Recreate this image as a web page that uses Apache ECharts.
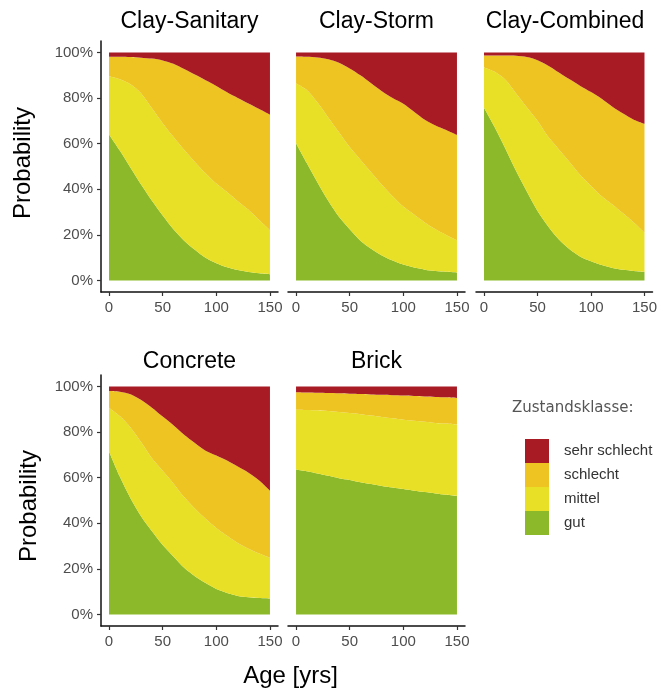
<!DOCTYPE html>
<html>
<head>
<meta charset="utf-8">
<script src="https://cdn.jsdelivr.net/npm/echarts@6/dist/echarts.min.js"></script>
<style>
  html, body { margin: 0; padding: 0; background: #ffffff; }
  #chart { width: 660px; height: 691px; }
</style>
</head>
<body>
<div id="chart"></div>
<script>
// ---- Data ----
const ages = [0, 10, 20, 30, 40, 50, 60, 70, 80, 90, 100, 110, 120, 130, 140, 150];
const panelTitles = ['Clay-Sanitary', 'Clay-Storm', 'Clay-Combined', 'Concrete', 'Brick'];
const classNames = ['gut', 'mittel', 'schlecht', 'sehr schlecht'];
const legendOrder = ['sehr schlecht', 'schlecht', 'mittel', 'gut'];
const xTicks = [0, 50, 100, 150];
const yTicks = [0, 0.2, 0.4, 0.6, 0.8, 1];

const claySanitaryGut      = [.640,.570,.495,.420,.350,.285,.225,.175,.135,.100,.076,.058,.046,.038,.032,.028];
const claySanitaryMittel   = [.255,.312,.365,.400,.405,.405,.405,.398,.385,.370,.349,.330,.302,.272,.233,.192];
const claySanitarySchlecht = [.086,.099,.120,.157,.218,.275,.320,.354,.383,.408,.428,.437,.452,.466,.487,.507];
const claySanitarySehr     = [.019,.019,.020,.023,.027,.035,.050,.073,.097,.122,.147,.175,.200,.224,.248,.273];

const clayStormGut      = [.602,.515,.430,.350,.280,.225,.175,.140,.110,.088,.070,.057,.048,.042,.039,.036];
const clayStormMittel   = [.262,.320,.350,.365,.370,.360,.355,.335,.310,.282,.255,.233,.207,.183,.161,.141];
const clayStormSchlecht = [.118,.146,.198,.255,.305,.345,.370,.390,.410,.430,.450,.450,.450,.455,.460,.461];
const clayStormSehr     = [.018,.019,.022,.030,.045,.070,.100,.135,.170,.200,.225,.260,.295,.320,.340,.362];

const clayCombinedGut      = [.757,.672,.578,.480,.390,.305,.237,.180,.137,.105,.085,.068,.055,.047,.042,.038];
const clayCombinedMittel   = [.177,.243,.302,.340,.370,.395,.393,.395,.383,.358,.330,.302,.279,.248,.213,.172];
const clayCombinedSchlecht = [.053,.072,.106,.165,.220,.266,.312,.337,.362,.390,.411,.427,.428,.437,.450,.477];
const clayCombinedSehr     = [.013,.013,.014,.015,.020,.034,.058,.088,.118,.147,.174,.203,.238,.268,.295,.313];

const concreteGut      = [.715,.605,.510,.430,.365,.305,.255,.205,.168,.138,.112,.095,.082,.076,.073,.071];
const concreteMittel   = [.192,.265,.310,.325,.320,.325,.320,.310,.297,.282,.268,.250,.232,.213,.195,.178];
const concreteSchlecht = [.073,.107,.146,.185,.222,.238,.255,.273,.287,.298,.317,.330,.335,.333,.320,.294];
const concreteSehr     = [.020,.023,.034,.060,.093,.132,.170,.212,.248,.282,.303,.325,.351,.378,.412,.457];

const brickGut      = [.636,.628,.618,.608,.598,.590,.580,.572,.564,.557,.550,.543,.537,.531,.525,.520];
const brickMittel   = [.262,.269,.277,.284,.290,.293,.298,.300,.302,.303,.304,.307,.308,.309,.312,.313];
const brickSchlecht = [.076,.076,.077,.079,.082,.085,.089,.093,.097,.101,.106,.108,.111,.114,.115,.116];
const brickSehr     = [.026,.027,.028,.029,.030,.032,.033,.035,.037,.039,.040,.042,.044,.046,.048,.051];

const panelData = [
  [claySanitaryGut, claySanitaryMittel, claySanitarySchlecht, claySanitarySehr],
  [clayStormGut, clayStormMittel, clayStormSchlecht, clayStormSehr],
  [clayCombinedGut, clayCombinedMittel, clayCombinedSchlecht, clayCombinedSehr],
  [concreteGut, concreteMittel, concreteSchlecht, concreteSehr],
  [brickGut, brickMittel, brickSchlecht, brickSehr]
];

// ---- Styling / layout ----
const classColors = {
  'gut': '#8BB929',
  'mittel': '#E8DF27',
  'schlecht': '#EDC422',
  'sehr schlecht': '#A81A24'
};
const FONT = '"Liberation Sans", Arial, sans-serif';
const gridLefts = [101, 288, 476, 101, 288];
const gridTops = [41, 41, 41, 375, 375];
const GRID_W = 177, GRID_H = 251;
const showY = [true, false, false, true, false];

const grids = [], xAxes = [], yAxes = [], series = [];
for (let p = 0; p < 5; p++) {
  grids.push({ left: gridLefts[p], top: gridTops[p], width: GRID_W, height: GRID_H, containLabel: false });
  xAxes.push({
    gridIndex: p, type: 'value', min: -7.5, max: 157.5,
    axisLine: { show: true, onZero: false, lineStyle: { color: '#111', width: 1.5 } },
    axisTick: { show: true, length: 4, customValues: xTicks, lineStyle: { color: '#333', width: 1.2 } },
    axisLabel: { show: true, customValues: xTicks, color: '#4D4D4D', fontSize: 15, fontFamily: FONT, margin: 8 },
    splitLine: { show: false }
  });
  yAxes.push({
    gridIndex: p, type: 'value', min: -0.05, max: 1.05, show: showY[p],
    axisLine: { show: true, onZero: false, lineStyle: { color: '#111', width: 1.5 } },
    axisTick: { show: true, length: 4, customValues: yTicks, lineStyle: { color: '#333', width: 1.2 } },
    axisLabel: { show: true, customValues: yTicks, color: '#4D4D4D', fontSize: 15, fontFamily: FONT, margin: 8,
      formatter: v => Math.round(v * 100) + '%' },
    splitLine: { show: false }
  });
  for (let c = 0; c < 4; c++) {
    const name = classNames[c];
    const vals = panelData[p][c];
    series.push({
      type: 'line', name: name, xAxisIndex: p, yAxisIndex: p, stack: 'panel' + p,
      // value first so that the stack is applied to the probability dimension
      data: ages.map((a, i) => [vals[i], a]),
      encode: { x: 1, y: 0 },
      smooth: 0.3, symbol: 'none', showSymbol: false,
      lineStyle: { width: 0, color: classColors[name] },
      itemStyle: { color: classColors[name] },
      areaStyle: { color: classColors[name], opacity: 1 },
      emphasis: { disabled: true },
      silent: true
    });
  }
}

const textItems = [
  { t: 'Clay-Sanitary', x: 189.5, y: 22 },
  { t: 'Clay-Storm', x: 376.5, y: 22 },
  { t: 'Clay-Combined', x: 565, y: 22 },
  { t: 'Concrete', x: 189.5, y: 362 },
  { t: 'Brick', x: 376.5, y: 362 }
].map(o => ({
  type: 'text', x: o.x, y: o.y,
  style: { text: o.t, fill: '#000', font: '23px ' + FONT, textAlign: 'center', textVerticalAlign: 'middle' }
}));

textItems.push(
  { type: 'text', x: 23, y: 163, rotation: Math.PI / 2,
    style: { text: 'Probability', fill: '#000', font: '24px ' + FONT, textAlign: 'center', textVerticalAlign: 'middle' } },
  { type: 'text', x: 29, y: 506, rotation: Math.PI / 2,
    style: { text: 'Probability', fill: '#000', font: '24px ' + FONT, textAlign: 'center', textVerticalAlign: 'middle' } },
  { type: 'text', x: 290.5, y: 676,
    style: { text: 'Age [yrs]', fill: '#000', font: '24px ' + FONT, textAlign: 'center', textVerticalAlign: 'middle' } },
  { type: 'text', x: 512, y: 408,
    style: { text: 'Zustandsklasse:', fill: '#555', font: '15px "DejaVu Sans", sans-serif', textAlign: 'left', textVerticalAlign: 'middle' } }
);

const option = {
  animation: false,
  backgroundColor: '#ffffff',
  grid: grids,
  xAxis: xAxes,
  yAxis: yAxes,
  series: series,
  legend: {
    data: legendOrder,
    orient: 'vertical',
    left: 520, top: 434,
    itemWidth: 24, itemHeight: 24, itemGap: 0,
    icon: 'rect',
    selectedMode: false,
    textStyle: { color: '#333', fontSize: 15, fontFamily: FONT, padding: [0, 0, 0, 10] }
  },
  graphic: textItems
};

const chart = echarts.init(document.getElementById('chart'), null, { renderer: 'canvas' });
chart.setOption(option);
</script>
</body>
</html>
